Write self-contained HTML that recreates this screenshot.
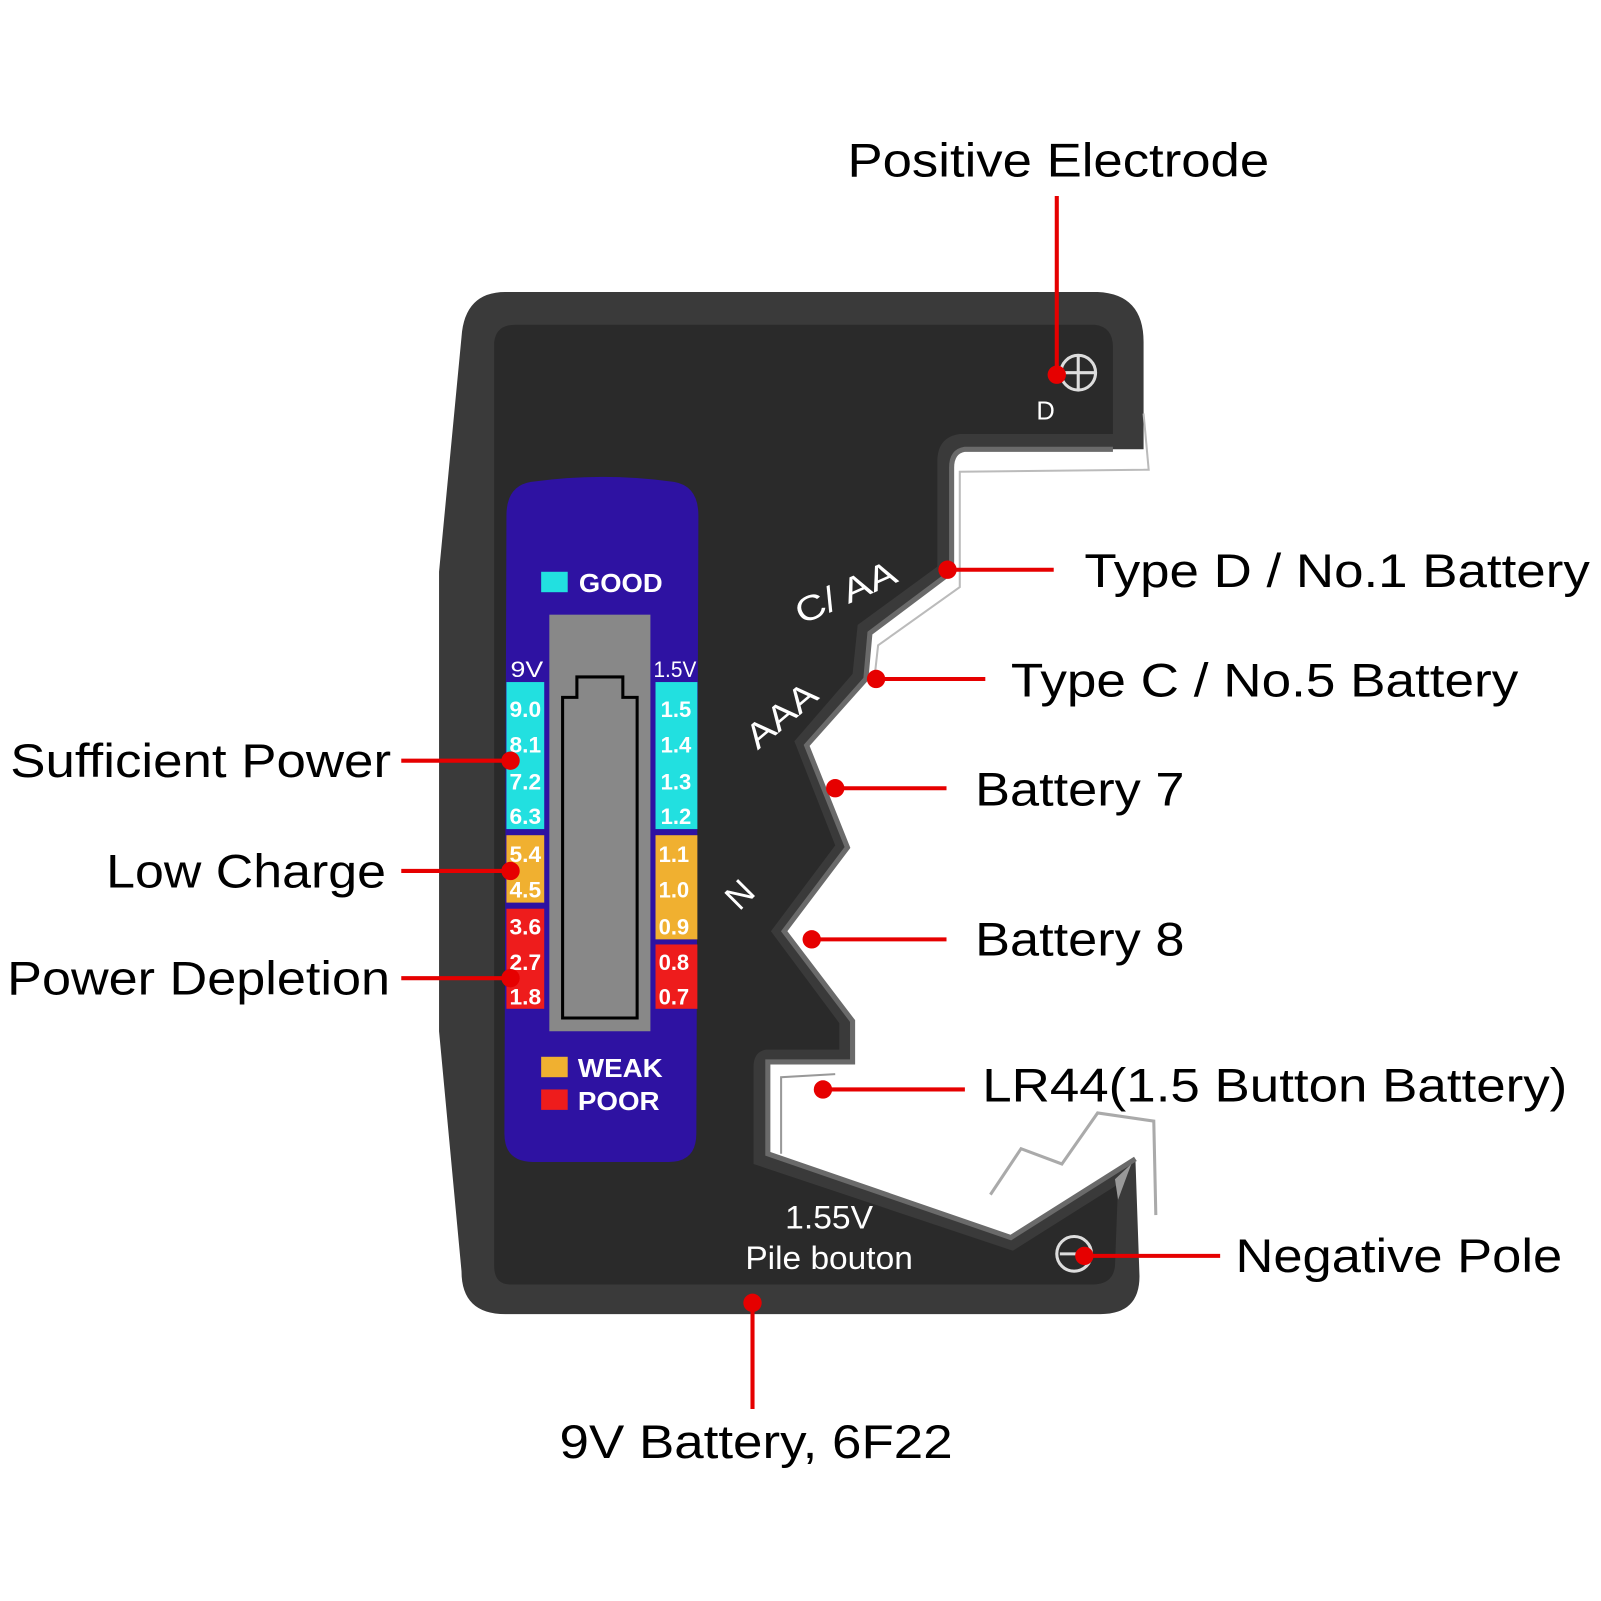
<!DOCTYPE html>
<html><head><meta charset="utf-8"><style>
html,body{margin:0;padding:0;background:#fff;}
svg{display:block;}
text{font-family:"Liberation Sans",Arial,sans-serif;}
</style></head><body>
<svg width="1601" height="1601" viewBox="0 0 1568 1568" xmlns="http://www.w3.org/2000/svg">
<rect width="1568" height="1568" fill="#fff"/>
<!-- body outer -->
<path d="M495,286 L1075,286 Q1120,288 1120,335 L1120,440 L945,440 Q932,442 932,458 L932,560 L852,620 L848,665 L790,730 L830,830 L768,912 L835,1000 L835,1040 L752,1040 L752,1130 L990,1212 L1112,1135 L1116,1250 Q1116,1287 1078,1287 L495,1287 Q452,1287 452,1245 L430,1010 L430,560 L452,330 Q455,286 495,286 Z" fill="#3a3a3a"/>
<!-- inner face -->
<path d="M505,318 L1072,318 Q1090,320 1090,340 L1090,425 L940,425 Q918,428 918,452 L918,555 L840,612 L835,660 L778,726 L818,828 L755,912 L822,1002 L822,1028 L750,1028 Q738,1030 738,1045 L738,1140 L992,1225 L1095,1160 L1092,1240 Q1090,1258 1070,1258 L500,1258 Q484,1258 484,1240 L484,335 Q486,318 505,318 Z" fill="#2a2a2a"/>
<!-- slot rims / metal -->
<path d="M1090,440 L945,440 Q932,442 932,458 L932,560 L852,620 L848,665 L790,730 L830,830 L768,912 L835,1000 L835,1040 L752,1040 L752,1130 L990,1212 L1112,1135" fill="none" stroke="#6a6a6a" stroke-width="5"/>
<path d="M1120,405 L1125,460 L940,462 L940,575 L860,632 L856,668" fill="none" stroke="#bbb" stroke-width="2"/>
<path d="M765,1130 L765,1055 L818,1052" fill="none" stroke="#999" stroke-width="2"/>
<path d="M970,1170 L1000,1125 L1040,1140 L1075,1090 L1130,1098 L1132,1190" fill="none" stroke="#aaa" stroke-width="3"/>
<path d="M1092,1155 L1108,1140 L1095,1175 Z" fill="#999"/>
<!-- display panel -->
<path d="M520,472 Q590,462 660,472 Q684,476 684,505 L682,1110 Q682,1138 655,1138 L522,1138 Q494,1138 494,1110 L496,505 Q496,476 520,472 Z" fill="#2e12a2"/>
<rect x="530" y="560" width="26" height="20" fill="#22e0e0"/>
<text x="567" y="580" fill="#fff" font-size="25" font-weight="bold" textLength="82" lengthAdjust="spacingAndGlyphs">GOOD</text>
<rect x="538" y="602" width="99" height="408" fill="#888"/>
<path d="M551,683 L565,683 L565,663 L610,663 L610,683 L624,683 L624,997 L551,997 Z" fill="none" stroke="#000" stroke-width="3"/>
<text x="500" y="663" fill="#fff" font-size="22" textLength="32" lengthAdjust="spacingAndGlyphs">9V</text>
<text x="640" y="663" fill="#fff" font-size="22" textLength="42" lengthAdjust="spacingAndGlyphs">1.5V</text>
<rect x="496" y="668" width="37" height="144" fill="#22e0e0"/>
<rect x="496" y="818" width="37" height="66" fill="#f0b030"/>
<rect x="496" y="890" width="37" height="98" fill="#ee1c1c"/>
<rect x="642" y="668" width="41" height="144" fill="#22e0e0"/>
<rect x="642" y="818" width="41" height="102" fill="#f0b030"/>
<rect x="642" y="925" width="41" height="63" fill="#ee1c1c"/>
<g fill="#fff" font-size="22" font-weight="bold">
<text x="499" y="702" textLength="31" lengthAdjust="spacingAndGlyphs">9.0</text>
<text x="499" y="737" textLength="31" lengthAdjust="spacingAndGlyphs">8.1</text>
<text x="499" y="773" textLength="31" lengthAdjust="spacingAndGlyphs">7.2</text>
<text x="499" y="807" textLength="31" lengthAdjust="spacingAndGlyphs">6.3</text>
<text x="499" y="844" textLength="31" lengthAdjust="spacingAndGlyphs">5.4</text>
<text x="499" y="879" textLength="31" lengthAdjust="spacingAndGlyphs">4.5</text>
<text x="499" y="915" textLength="31" lengthAdjust="spacingAndGlyphs">3.6</text>
<text x="499" y="950" textLength="31" lengthAdjust="spacingAndGlyphs">2.7</text>
<text x="499" y="984" textLength="31" lengthAdjust="spacingAndGlyphs">1.8</text>
<text x="647" y="702" textLength="30" lengthAdjust="spacingAndGlyphs">1.5</text>
<text x="647" y="737" textLength="30" lengthAdjust="spacingAndGlyphs">1.4</text>
<text x="647" y="773" textLength="30" lengthAdjust="spacingAndGlyphs">1.3</text>
<text x="647" y="807" textLength="30" lengthAdjust="spacingAndGlyphs">1.2</text>
<text x="645" y="844" textLength="30" lengthAdjust="spacingAndGlyphs">1.1</text>
<text x="645" y="879" textLength="30" lengthAdjust="spacingAndGlyphs">1.0</text>
<text x="645" y="915" textLength="30" lengthAdjust="spacingAndGlyphs">0.9</text>
<text x="645" y="950" textLength="30" lengthAdjust="spacingAndGlyphs">0.8</text>
<text x="645" y="984" textLength="30" lengthAdjust="spacingAndGlyphs">0.7</text>
</g>
<rect x="530" y="1035" width="26" height="20" fill="#f0b030"/>
<rect x="530" y="1067" width="26" height="20" fill="#ee1c1c"/>
<text x="566" y="1055" fill="#fff" font-size="25" font-weight="bold" textLength="83" lengthAdjust="spacingAndGlyphs">WEAK</text>
<text x="566" y="1087" fill="#fff" font-size="25" font-weight="bold" textLength="80" lengthAdjust="spacingAndGlyphs">POOR</text>
<!-- device labels -->
<circle cx="1056" cy="365" r="17" fill="none" stroke="#ddd" stroke-width="3"/>
<path d="M1039,365 H1073 M1056,348 V382" stroke="#ddd" stroke-width="3"/>
<text x="1015" y="411" fill="#fff" font-size="25">D</text>
<circle cx="1052" cy="1228" r="17" fill="none" stroke="#ddd" stroke-width="3"/>
<path d="M1038,1228 H1066" stroke="#ddd" stroke-width="3"/>
<text transform="translate(785,612) rotate(-24)" fill="#fff" font-size="34" textLength="105" lengthAdjust="spacingAndGlyphs">C/ AA</text>
<text transform="translate(742,735) rotate(-40)" fill="#fff" font-size="34" textLength="80" lengthAdjust="spacingAndGlyphs">AAA</text>
<text transform="translate(724,893) rotate(-45)" fill="#fff" font-size="34">N</text>
<text x="812" y="1203" fill="#fff" font-size="32" text-anchor="middle" textLength="86" lengthAdjust="spacingAndGlyphs">1.55V</text>
<text x="812" y="1243" fill="#fff" font-size="32" text-anchor="middle" textLength="164" lengthAdjust="spacingAndGlyphs">Pile bouton</text>
<!-- callouts -->
<g stroke="#e60000" stroke-width="4" fill="none">
<path d="M1035,192 V367"/><path d="M928,558 H1032"/><path d="M858,665 H965"/><path d="M818,772 H927"/>
<path d="M795,920 H927"/><path d="M806,1067 H945"/><path d="M1062,1230 H1195"/><path d="M737,1276 V1380"/>
<path d="M393,745 H500"/><path d="M393,853 H500"/><path d="M393,958 H500"/>
</g>
<g fill="#e60000">
<circle cx="1035" cy="367" r="9"/><circle cx="928" cy="558" r="9"/><circle cx="858" cy="665" r="9"/><circle cx="818" cy="772" r="9"/>
<circle cx="795" cy="920" r="9"/><circle cx="806" cy="1067" r="9"/><circle cx="1062" cy="1230" r="9"/><circle cx="737" cy="1276" r="9"/>
<circle cx="500" cy="745" r="9"/><circle cx="500" cy="853" r="9"/><circle cx="500" cy="958" r="9"/>
</g>
<g fill="#000" font-size="46">
<text x="830" y="173" textLength="413" lengthAdjust="spacingAndGlyphs">Positive Electrode</text>
<text x="1062" y="575" textLength="495" lengthAdjust="spacingAndGlyphs">Type D / No.1 Battery</text>
<text x="990" y="682" textLength="497" lengthAdjust="spacingAndGlyphs">Type C / No.5 Battery</text>
<text x="955" y="789" textLength="205" lengthAdjust="spacingAndGlyphs">Battery 7</text>
<text x="955" y="936" textLength="205" lengthAdjust="spacingAndGlyphs">Battery 8</text>
<text x="962" y="1079" textLength="573" lengthAdjust="spacingAndGlyphs">LR44(1.5 Button Battery)</text>
<text x="1210" y="1246" textLength="320" lengthAdjust="spacingAndGlyphs">Negative Pole</text>
<text x="548" y="1428" textLength="385" lengthAdjust="spacingAndGlyphs">9V Battery, 6F22</text>
<text x="10" y="761" textLength="373" lengthAdjust="spacingAndGlyphs">Sufficient Power</text>
<text x="104" y="869" textLength="274" lengthAdjust="spacingAndGlyphs">Low Charge</text>
<text x="7" y="974" textLength="375" lengthAdjust="spacingAndGlyphs">Power Depletion</text>
</g>
</svg>
</body></html>
